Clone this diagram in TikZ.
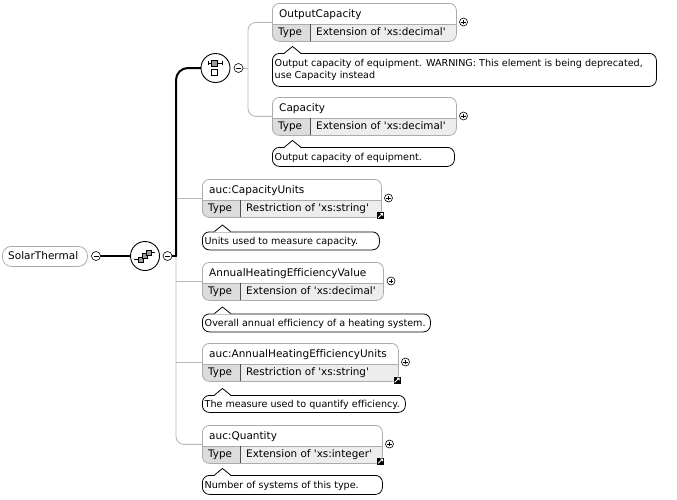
\documentclass[tikz,border=0pt]{standalone}
\usepackage{fontspec}
\setmainfont{DejaVu Sans}[Ligatures={TeXOff,CommonOff}]
\usetikzlibrary{backgrounds}

\definecolor{boxgray}{HTML}{ABABAB}
\definecolor{linkgray}{HTML}{B8B8B8}
\definecolor{typecellfill}{HTML}{DCDCDC}
\definecolor{valcellfill}{HTML}{EDEDED}
\definecolor{icongray}{HTML}{9C9C9C}

% element box: name, x, y (top), width, title, type text
\newcommand\elembox[6]{%
  \begin{scope}
    \clip[rounded corners=7pt] ({#2},{#3}) rectangle ({#2+#4},{#3+38});
    \fill[typecellfill] ({#2},{#3+21}) rectangle ({#2+38},{#3+38});
    \fill[valcellfill] ({#2+38},{#3+21}) rectangle ({#2+#4},{#3+38});
  \end{scope}
  \draw[draw=boxgray, line width=0.8pt] ({#2},{#3+21}) -- ({#2+#4},{#3+21});
  \draw[draw=black!70, line width=0.7pt] ({#2+38},{#3+21}) -- ({#2+38},{#3+38});
  \node[elemframe, minimum width=#4pt, minimum height=38pt, anchor=north west] (#1) at ({#2},{#3}) {};
  \node[titletext] (#1-title) at ({#2+7},{#3+14.6}) {#5};
  \node[typetext] (#1-typelabel) at ({#2+6},{#3+32.2}) {Type};
  \node[typetext] (#1-typeval) at ({#2+44},{#3+32.2}) {#6};
}

% annotation frame with a notch on top: name, x, y (top), width, height
\newcommand\annframe[5]{%
  \node[annbox, minimum width=#4pt, minimum height=#5pt, anchor=north west] (#1) at ({#2},{#3}) {};
  \fill[white] ({#2+12.5},{#3+0.8}) -- ({#2+20.5},{#3-6.5}) -- ({#2+28.5},{#3+0.8}) -- cycle;
  \draw[black, line width=0.8pt, line join=round] ({#2+12.5},{#3}) -- ({#2+20.5},{#3-6.5}) -- ({#2+28.5},{#3});
}

\begin{document}
\begin{tikzpicture}[x=1pt,y=-1pt,
  conn/.style={draw=linkgray, line width=0.9pt},
  heavy/.style={draw=black, line width=2pt, line cap=round},
  elemframe/.style={draw=boxgray, line width=0.8pt, rounded corners=7pt, rectangle, inner sep=0pt},
  annbox/.style={draw=black, fill=white, line width=0.8pt, rounded corners=7pt, rectangle, inner sep=0pt},
  titletext/.style={anchor=base west, inner sep=0pt, font=\fontsize{10.5}{12}\selectfont},
  typetext/.style={anchor=base west, inner sep=0pt, font=\fontsize{10.4}{12}\selectfont},
  anntext/.style={anchor=base west, inner sep=0pt, font=\fontsize{9.6}{11}\selectfont},
  pm/.style={circle, draw=black, fill=white, line width=0.6pt, minimum size=8pt, inner sep=0pt},
  plusnode/.style={pm, path picture={
      \draw[line width=0.6pt]
        ([xshift=-2.2pt]path picture bounding box.center) -- ([xshift=2.2pt]path picture bounding box.center)
        ([yshift=-2.2pt]path picture bounding box.center) -- ([yshift=2.2pt]path picture bounding box.center);}},
  minusnode/.style={pm, minimum size=9pt, path picture={
      \draw[line width=0.6pt]
        ([xshift=-2.5pt]path picture bounding box.center) -- ([xshift=2.5pt]path picture bounding box.center);}},
  linknode/.style={rectangle, fill=black, minimum size=7pt, inner sep=0pt, path picture={
      \draw[white, line width=0.8pt]
        ([shift={(-2.3pt,-2.3pt)}]path picture bounding box.center) -- ([shift={(1.2pt,1.2pt)}]path picture bounding box.center);
      \fill[white]
        ([shift={(2.5pt,2.5pt)}]path picture bounding box.center) -- ([shift={(-0.6pt,2.5pt)}]path picture bounding box.center)
        -- ([shift={(2.5pt,-0.6pt)}]path picture bounding box.center) -- cycle;}},
  comp/.style={circle, draw=black, fill=white, line width=0.9pt, minimum size=29pt, inner sep=0pt},
  rootbox/.style={draw=boxgray, line width=0.8pt, rounded corners=9pt, rectangle, inner sep=0pt,
      minimum width=85pt, minimum height=20pt},
]
\useasboundingbox (0,0) rectangle (677,499);

% root element
\node[rootbox, anchor=north west] (root) at (2,246) {};
\node[titletext] (root-title) at (8,259.8) {SolarThermal};
\node[minusnode] (rootm) at (96,256) {};

% sequence compositor
\node[comp] (seq) at (145,256) {};
\node[minusnode] (seqm) at (167.5,256) {};
\begin{scope}[shift={(seq.center)}]
  \draw[line width=0.6pt] (-10,3.5) -- (-6,3.5);
  \fill (-10,3.5) circle (0.9);
  \draw[line width=0.6pt] (5,-3.5) -- (9,-3.5);
  \fill (9,-3.5) circle (0.9);
  \draw[fill=icongray, line width=0.5pt] (-7,1) rectangle (-2,6);
  \draw[fill=icongray, line width=0.5pt] (-3,-2.5) rectangle (2,2.5);
  \draw[fill=icongray, line width=0.5pt] (1,-6) rectangle (6,-1);
\end{scope}

% choice compositor
\node[comp] (choice) at (215.5,68) {};
\node[minusnode] (choicem) at (238.5,68) {};
\begin{scope}[shift={(choice.center)}]
  \draw[line width=0.6pt] (-7.5,-5) -- (6.5,-5);
  \draw[line width=0.6pt] (-7.5,-7) -- (-7.5,-3) (6.5,-7) -- (6.5,-3);
  \draw[fill=icongray, line width=0.5pt] (-3.8,-8) rectangle (2.2,-2);
  \draw[fill=white, line width=0.6pt] (-3.8,1.3) rectangle (2.2,7.3);
\end{scope}

% child elements
\elembox{outcap}{272}{3}{184}{OutputCapacity}{Extension of 'xs:decimal'}
\node[plusnode] (outcapp) at (463.5,22) {};
\annframe{outcapann}{272}{53}{384}{33}
\node[anntext] (outcapann-l1) at (274.5,66.2) {Output capacity of equipment. WARNING: This element is being deprecated,};
\node[anntext] (outcapann-l2) at (274.5,78.2) {use Capacity instead};

\elembox{cap}{272}{97}{184}{Capacity}{Extension of 'xs:decimal'}
\node[plusnode] (capp) at (463.5,116) {};
\annframe{capann}{272}{147}{182}{19}
\node[anntext] (capann-l1) at (274.5,160.8) {Output capacity of equipment.};

\elembox{cu}{202}{179}{179}{auc:CapacityUnits}{Restriction of 'xs:string'}
\node[plusnode] (cup) at (388.5,198) {};
\node[linknode] (cul) at (380.5,215.5) {};
\annframe{cuann}{202}{231.5}{177}{18}
\node[anntext] (cuann-l1) at (204.5,244.8) {Units used to measure capacity.};

\elembox{ahev}{202}{262}{181}{AnnualHeatingEfficiencyValue}{Extension of 'xs:decimal'}
\node[plusnode] (ahevp) at (391,281) {};
\annframe{ahevann}{202}{313.5}{228}{18}
\node[anntext] (ahevann-l1) at (204.5,326.8) {Overall annual efficiency of a heating system.};

\elembox{aheu}{202}{343}{196}{auc:AnnualHeatingEfficiencyUnits}{Restriction of 'xs:string'}
\node[plusnode] (aheup) at (405.5,362) {};
\node[linknode] (aheul) at (397,380) {};
\annframe{aheuann}{202}{395}{203}{17}
\node[anntext] (aheuann-l1) at (204.5,407.8) {The measure used to quantify efficiency.};

\elembox{qty}{202}{425}{180}{auc:Quantity}{Extension of 'xs:integer'}
\node[plusnode] (qtyp) at (389.5,444) {};
\node[linknode] (qtyl) at (380.5,461) {};
\annframe{qtyann}{202}{475}{180}{19}
\node[anntext] (qtyann-l1) at (204.5,488.8) {Number of systems of this type.};

% connectors
\coordinate (sbus) at (176,256);
\coordinate (cbus) at (248,68);
\begin{scope}[on background layer]
  \draw[conn, rounded corners=8pt] (sbus) |- (qty.west);
  \draw[conn] (cu.west -| sbus) -- (cu.west);
  \draw[conn] (ahev.west -| sbus) -- (ahev.west);
  \draw[conn] (aheu.west -| sbus) -- (aheu.west);
  \draw[conn] (choicem.east) -- (cbus);
  \draw[conn, rounded corners=8pt] (cbus) |- (outcap.west);
  \draw[conn, rounded corners=8pt] (cbus) |- (cap.west);
  \draw[heavy] (rootm.east) -- (seq.west);
  \draw[heavy] (seqm.east) -- (sbus);
  \draw[heavy, rounded corners=12pt] (sbus) |- (choice.west);
\end{scope}
\end{tikzpicture}
\end{document}
